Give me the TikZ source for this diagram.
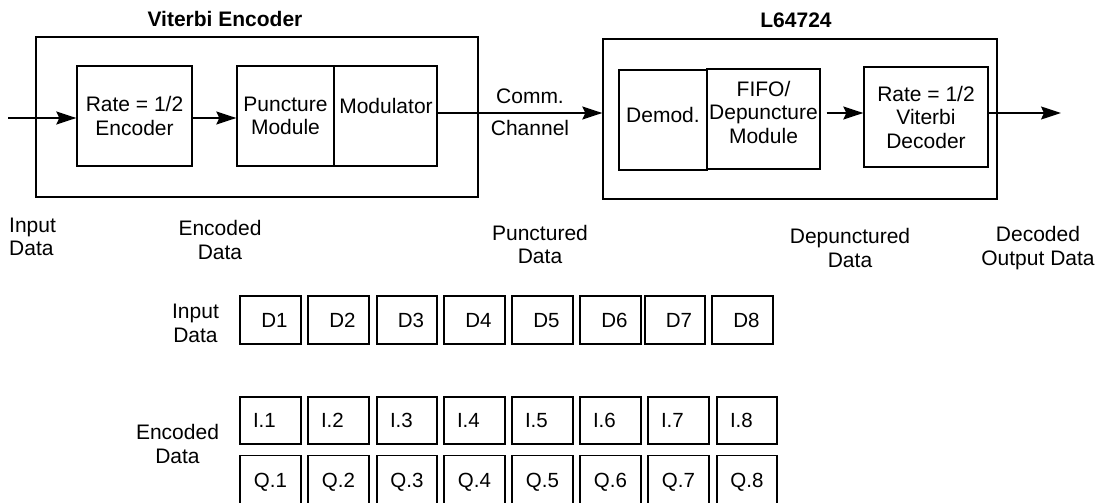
\documentclass[tikz,border=0pt]{standalone}
\usepackage{fontspec}
\setmainfont{Liberation Sans}
\usetikzlibrary{arrows.meta}
\tikzset{
  box/.style={draw, line width=1.35pt, inner sep=0pt},
  txt/.style={font=\fontsize{21}{23.5}\selectfont, align=center, inner sep=0pt},
  ctxt/.style={font=\fontsize{20.5}{23}\selectfont, inner sep=0pt, text height=14.8pt, text depth=0pt},
  ttl/.style={font=\fontsize{21}{24}\selectfont\bfseries, inner sep=0pt},
  cell/.style={box, ctxt},
  arr/.style={line width=1.35pt, -{Stealth[length=20pt,width=13pt,inset=3pt]}}
}
\begin{document}
\begin{tikzpicture}[x=1pt,y=-1pt]
\useasboundingbox (0,0) rectangle (1108,503);
\clip (0,0) rectangle (1108,503);

% Viterbi encoder
\node[box, minimum width=442pt, minimum height=160pt] (venc) at (257,117) {};
\node[ttl] (ventitle) at (225,19) {Viterbi Encoder};
\node[box, txt, minimum width=115pt, minimum height=100pt] (rate) at (134.5,116) {Rate = 1/2\\Encoder};
\node[box, txt, minimum width=97pt, minimum height=100pt] (punct) at (285.5,116) {Puncture\\Module};
\node[box, minimum width=103pt, minimum height=100pt] (mod) at (385.5,116) {};
\node[txt] (modtxt) at (386,106) {Modulator};

% channel
\node[txt] (comm) at (530,96) {Comm.};
\node[txt] (chan) at (530,128) {Channel};

% L64724
\node[box, minimum width=394pt, minimum height=160pt] (dec) at (800,119) {};
\node[ttl] (dectitle) at (796,20) {L64724};
\node[box, minimum width=88pt, minimum height=100pt] (demod) at (663,120) {};
\node[txt] (demodtxt) at (663,115) {Demod.};
\node[box, minimum width=113pt, minimum height=100pt] (fifo) at (763.5,119) {};
\node[txt] (fifotxt) at (763.5,112) {FIFO/\\Depuncture\\Module};
\node[box, txt, minimum width=124pt, minimum height=100pt] (vdec) at (926,117) {Rate = 1/2\\Viterbi\\Decoder};

% connectors
\coordinate (in) at (8,118);
\draw[arr] (in) -- (rate.west |- in);
\draw[arr] (rate.east |- in) -- (punct.west |- in);
\coordinate (chs) at ([yshift=3pt]mod.east);
\draw[arr] (chs) -- (chs -| dec.west);
\coordinate (fa) at ([xshift=6pt,yshift=6pt]fifo.east);
\draw[arr] (fa) -- (fa -| vdec.west);
\coordinate (out) at (1061,113);
\draw[arr] (vdec.east |- out) -- (out);

% stage labels
\node[txt, align=left, anchor=west] (linput) at (9,237) {Input\\Data};
\node[txt] (lenc) at (220,240) {Encoded\\Data};
\node[txt] (lpunc) at (540,244.5) {Punctured\\Data};
\node[txt] (ldepunc) at (850,248) {Depunctured\\Data};
\node[txt] (ldecod) at (1038,248) {Decoded\\Output Data};

% data grid
\node[txt] (ginput) at (195.5,323.5) {Input\\Data};
\node[txt] (genc) at (177.5,444) {Encoded\\Data};

\foreach \i/\l/\r in {1/240/301,2/308/369,3/377/437,4/444/505,5/512/573,6/580/641,7/645/705,8/712/773}
  \node[cell, minimum width={(\r-\l)*1pt}, minimum height=48pt] (d\i) at ({(\l+\r)/2},320) {\hspace*{8pt}D\i};

\foreach \i/\l/\r in {1/240/301,2/308/369,3/377/437,4/444/505,5/512/573,6/580/641,7/648/709,8/717/777}{
  \node[cell, minimum width={(\r-\l)*1pt}, minimum height=47pt, inner xsep=13pt, text width={(\r-\l-26)*1pt}, align=left] (i\i) at ({(\l+\r)/2},420.5) {I.\i};
  \node[cell, minimum width={(\r-\l)*1pt}, minimum height=49pt] (q\i) at ({(\l+\r)/2},480) {Q.\i};
}
\end{tikzpicture}
\end{document}
